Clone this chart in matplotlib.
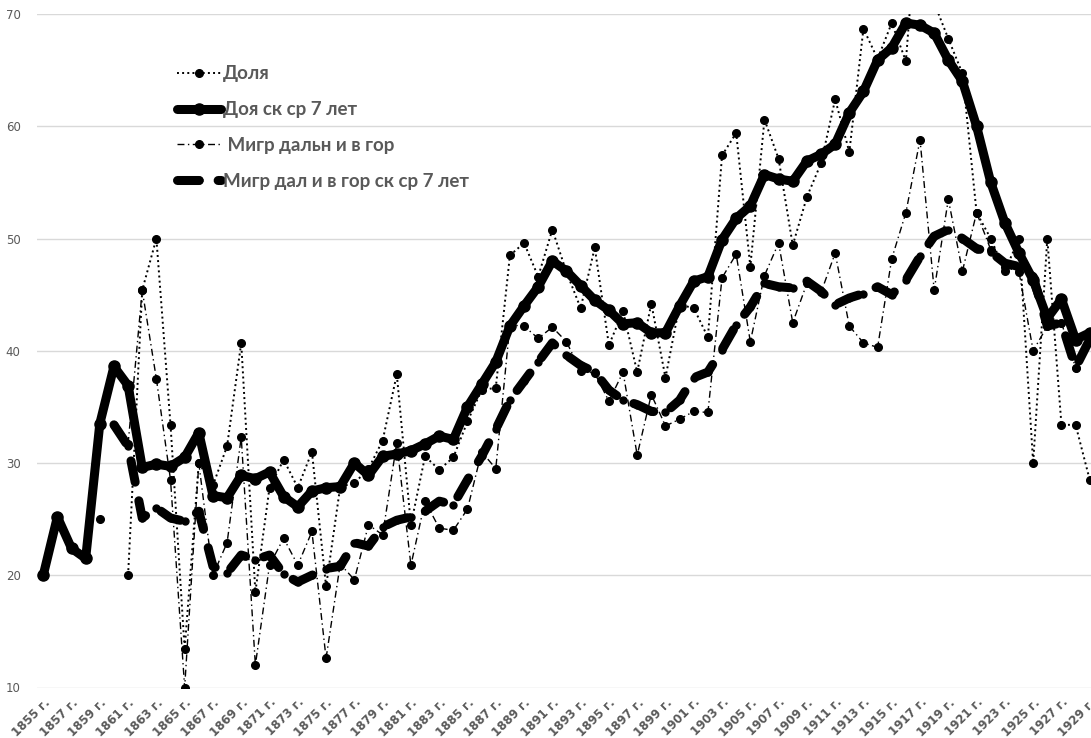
import numpy as np
import matplotlib.pyplot as plt

nan = np.nan
anni = np.arange(1855, 1930)

dolya = [
    20.0, nan, nan, nan, 25.0, nan, 20.0, 45.4, 50.0, 33.4,     # 1855-1864
    13.4, 30.0, 28.0, 31.5, 40.7, 18.5, 27.8, 30.3, 27.8, 31.0,  # 1865-1874
    19.0, 27.9, 28.2, 29.5, 32.0, 37.9, 24.5, 30.6, 29.4, 30.5,  # 1875-1884
    33.7, 36.5, 36.7, 48.5, 49.6, 46.6, 50.8, 47.0, 43.8, 49.2,  # 1885-1894
    40.5, 43.5, 38.1, 44.2, 37.6, 44.1, 43.8, 41.2, 57.4, 59.4,  # 1895-1904
    47.5, 60.6, 57.1, 49.4, 53.7, 56.7, 62.4, 57.7, 68.7, 66.0,  # 1905-1914
    69.2, 65.8, 82.0, 71.0, 67.8, 64.7, 52.3, 50.0, 47.1, 50.0,  # 1915-1924
    30.0, 50.0, 33.4, 33.4, 28.5,                                # 1925-1929
]

dolya_sk = [
    20.0, 25.2, 22.4, 21.5, 33.5, 38.6, 36.9, 29.6, 29.9, 29.7,
    30.5, 32.7, 27.1, 26.9, 28.9, 28.6, 29.2, 27.0, 26.1, 27.5,
    27.8, 27.9, 30.0, 28.9, 30.6, 30.8, 31.1, 31.7, 32.4, 32.1,
    35.0, 37.0, 39.0, 42.2, 44.0, 45.7, 48.0, 47.1, 45.8, 44.5,
    43.6, 42.4, 42.5, 41.6, 41.6, 44.0, 46.2, 46.6, 49.9, 51.8,
    52.9, 55.7, 55.3, 55.1, 56.9, 57.5, 58.4, 61.2, 63.1, 65.9,
    67.0, 69.2, 69.0, 68.3, 65.9, 64.0, 60.0, 55.0, 51.4, 48.7,
    46.3, 42.9, 44.6, 41.0, 41.6,
]

migr = [
    nan, nan, nan, nan, nan, nan, 31.7, 45.4, 37.5, 28.5,
    10.0, 30.0, 20.0, 22.9, 32.3, 12.0, 20.9, 23.3, 20.9, 23.9,
    12.6, 21.0, 19.6, 24.5, 23.6, 31.8, 20.9, 26.6, 24.2, 24.0,
    25.9, 31.0, 29.5, 42.3, 42.2, 41.1, 42.1, 40.8, 38.2, 38.0,
    35.5, 38.1, 30.7, 36.1, 33.3, 33.9, 34.6, 34.5, 46.5, 48.6,
    40.8, 46.7, 49.6, 42.5, 46.0, 45.2, 48.7, 42.2, 40.7, 40.3,
    48.2, 52.3, 58.8, 45.4, 53.5, 47.1, 52.3, 49.0, 47.5, 47.0,
    40.0, 42.2, 42.5, 38.5, 41.0,
]

migr_sk = [
    nan, nan, nan, nan, nan, 33.4, 31.5, 25.1, 26.0, 25.1,
    24.8, 25.7, 20.8, 20.2, 21.8, 21.4, 21.8, 20.1, 19.4, 20.0,
    20.6, 20.8, 22.9, 22.6, 24.3, 24.9, 25.2, 25.7, 26.6, 26.3,
    28.5, 30.6, 33.0, 35.6, 37.3, 39.0, 40.7, 39.6, 38.7, 38.1,
    36.5, 35.6, 35.2, 34.6, 34.5, 35.6, 37.6, 38.1, 40.1, 42.3,
    43.9, 46.0, 45.7, 45.6, 46.2, 45.3, 44.1, 44.7, 45.1, 45.7,
    45.0, 46.3, 48.4, 50.2, 50.8, 50.0, 49.1, 48.8, 47.8, 47.5,
    46.6, 42.2, 42.5, 38.5, 41.0,
]

etichette = ["Доля", "Доя ск ср 7 лет", " Мигр дальн и в гор", "Мигр дал и в гор ск ср 7 лет"]

grigio = "#595959"

fig = plt.figure(figsize=(10.91, 7.38), dpi=100)
ax = fig.add_axes([37.3 / 1091, 50.5 / 738, 1 - 37.3 / 1091, 673.5 / 738])

l1, = ax.plot(anni, dolya, color="black", linestyle=":", linewidth=1.4,
              marker="o", markersize=5.5, label=etichette[0])
l2, = ax.plot(anni, dolya_sk, color="black", linestyle="-", linewidth=6.5,
              solid_joinstyle="round", solid_capstyle="round",
              marker="o", markersize=8, label=etichette[1])
l3, = ax.plot(anni, migr, color="black", linestyle=(0, (5, 2.5, 1, 2.5)), linewidth=1,
              marker="o", markersize=5.5, label=etichette[2])
l4, = ax.plot(anni, migr_sk, color="black", linestyle=(0, (2.4, 2.1)), linewidth=6.5,
              dash_capstyle="round", dash_joinstyle="round",
              marker="o", markersize=5, label=etichette[3])

ax.set_xlim(1854.58, 1929.09)
ax.set_ylim(10, 70)
ax.set_yticks(range(10, 71, 10))
ax.set_xticks(anni[::2])
ax.set_xticklabels([f"{a} г." for a in anni[::2]], rotation=45, ha="right",
                   va="top", rotation_mode="anchor", fontweight="bold")
ax.tick_params(axis="both", length=0, colors=grigio, labelsize=8.5)
ax.tick_params(axis="x", pad=6)
ax.tick_params(axis="y", pad=12)
ax.grid(axis="y", color="#d9d9d9", linewidth=1)
ax.set_axisbelow(True)
for s in ax.spines.values():
    s.set_visible(False)

leg = fig.legend(handles=[l1, l2, l3, l4], loc="upper left",
                 bbox_to_anchor=(168 / 1091, 1 - 56 / 738), frameon=False,
                 prop={"family": "Lato", "weight": "bold", "size": 13.5},
                 labelcolor=grigio, handlelength=2.3, handletextpad=0.15,
                 labelspacing=1.0, borderpad=0)

fig.savefig("out.png", dpi=100)
